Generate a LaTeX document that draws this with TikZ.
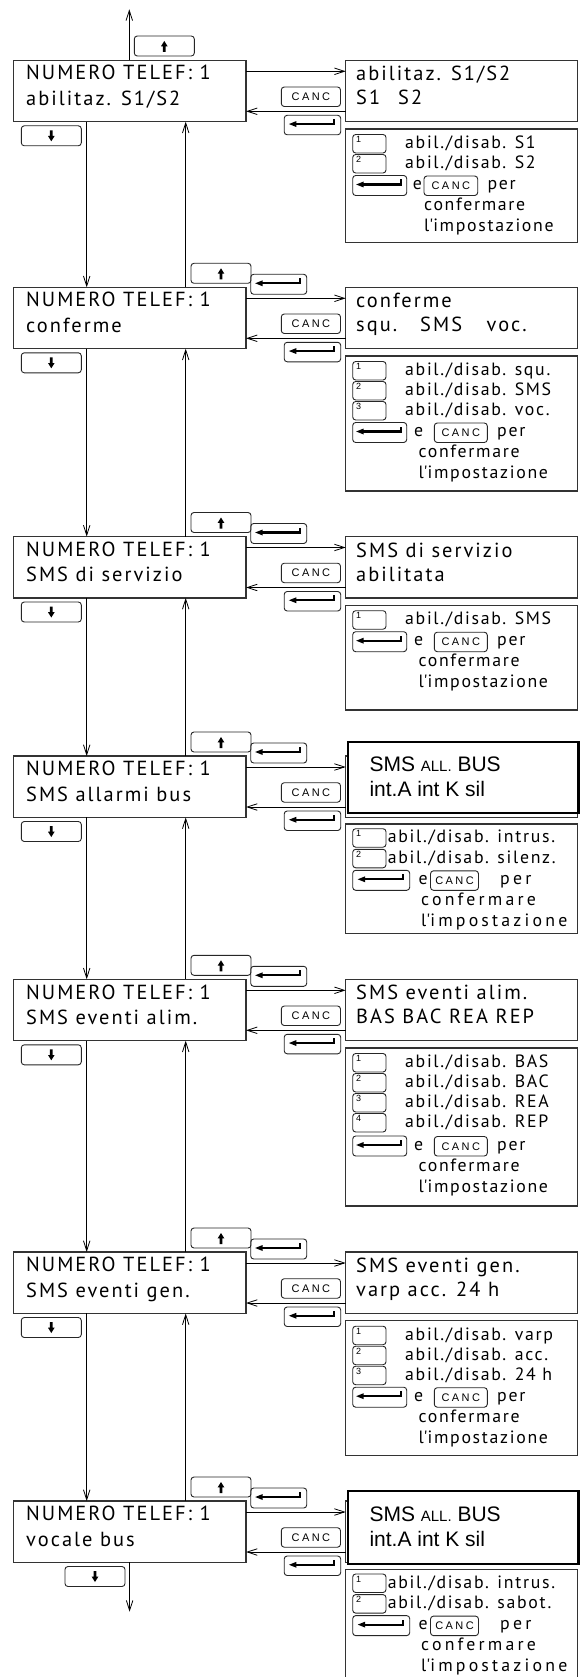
\documentclass[tikz,border=0pt]{standalone}
\usepackage{fontspec}
\usetikzlibrary{arrows.meta,calc}
\newfontfamily\dispfam[LetterSpace=10]{PT Sans}
\newfontfamily\optfam[LetterSpace=9.5]{PT Sans}
\newfontfamily\widefam[LetterSpace=18]{PT Sans}
\newfontfamily\arialfam{Liberation Sans}
\newfontfamily\keyfam[LetterSpace=22]{Liberation Sans}

\tikzset{
 frameline/.style={draw=black!80, line width=1.2pt},
 lcd/.style={frameline, anchor=north west, inner sep=0pt, outer sep=0pt, minimum width=232.7pt, minimum height=61.4pt},
 rlcd/.style={frameline, anchor=north west, inner sep=0pt, outer sep=0pt, minimum width=232pt, minimum height=61.4pt},
 optframe/.style={frameline, anchor=north west, inner sep=0pt, outer sep=0pt, minimum width=232pt},
 bigframe/.style={draw=black, line width=2.2pt, fill=white, anchor=north west, inner sep=0pt, outer sep=0pt, minimum width=230.2pt},
 keyframe/.style={draw=black!85, line width=0.9pt, rounded corners=3pt, anchor=north west, inner sep=0pt, outer sep=0pt},
 arrowkey/.style={keyframe, minimum width=60pt, minimum height=20pt},
 enterkey/.style={keyframe, minimum height=20pt},
 canckey/.style={keyframe, minimum height=19.5pt, font=\keyfam\fontsize{11}{12}\selectfont},
 numkey/.style={keyframe, minimum width=33.3pt, minimum height=18.5pt},
 digit/.style={anchor=north west, inner sep=0pt, font=\arialfam\fontsize{9}{9}\selectfont},
 dtext/.style={anchor=base west, inner sep=0pt, font=\dispfam\fontsize{20.4}{24}\selectfont},
 otext/.style={anchor=base west, inner sep=0pt, font=\optfam\fontsize{17.8}{20}\selectfont},
 wtext/.style={anchor=base west, inner sep=0pt, font=\widefam\fontsize{17.8}{20}\selectfont},
 atext/.style={anchor=base west, inner sep=0pt, font=\arialfam\fontsize{21}{24}\selectfont},
 conn/.style={line width=0.8pt, -{Straight Barb[length=10pt,width=6.5pt]}},
}

% glyphs drawn inside the keys (y grows downward in this picture)
\newcommand\upglyph[1]{\fill ($(#1.center)+(0,-5)$) -- ++(3.3,5.3) -- ++(-1.9,0) -- ++(0,5.7) -- ++(-2.8,0) -- ++(0,-5.7) -- ++(-1.9,0) -- cycle;}
\newcommand\downglyph[1]{\fill ($(#1.center)+(0,5.5)$) -- ++(3.3,-5.3) -- ++(-1.9,0) -- ++(0,-5.7) -- ++(-2.8,0) -- ++(0,5.7) -- ++(-1.9,0) -- cycle;}
\newcommand\enterglyph[1]{\draw[line width=2.2pt] ($(#1.center)+(-17,-1)$) -- ++(38.5,0) -- ++(0,-5);
  \fill ($(#1.center)+(-23.5,-1)$) -- ++(7.5,-3) -- ++(0,6) -- cycle;}

% id, top, second line of the left display
\newcommand\leftpart[3]{%
  \node[lcd] (L#1) at (13.3,#2) {};
  \node[dtext] (L#1a) at (26,{#2+19.7}) {NUMERO TELEF: 1};
  \node[dtext] (L#1b) at (26,{#2+45}) {#3};
  \node[rlcd] (R#1) at (345.7,#2) {};
  \node[canckey, minimum width=59.2pt] (C#1) at (281.3,{#2+26.7}) {CANC};
  \node[enterkey, minimum width=56.5pt, minimum height=19.5pt] (N#1) at (284.2,{#2+55}) {};
  \enterglyph{N#1}
  \draw[conn] ([yshift=-11pt]L#1.north east) -- ([yshift=-11pt]R#1.north west);
  \draw[conn] ([yshift=-51pt]R#1.north west) -- ([yshift=-51pt]L#1.north east);
}
\newcommand\upperkeys[2]{%
  \node[arrowkey] (U#1) at (191,{#2-24}) {};
  \upglyph{U#1}
  \node[enterkey, minimum width=56pt] (M#1) at (250.7,{#2-13}) {};
  \enterglyph{M#1}
}
\newcommand\rtext[4]{%
  \node[dtext] (R#1a) at (356,{#2+20.5}) {#3};
  \node[dtext] (R#1b) at (356,{#2+44.5}) {#4};
}
% name, key top, digit, text, text x
\newcommand\optrow[5]{%
  \node[numkey] (#1) at (352.7,#2) {};
  \node[digit] (#1d) at (356,{#2+1.8}) {#3};
  \node[otext] (#1t) at (#5,{#2+14}) {#4};
}
% name, E, e x, canc x, canc w, per x, conf x, enter w, text style
\newcommand\enterrow[9]{%
  \node[enterkey, minimum width=#8] (#1k) at (352.7,#2) {};
  \enterglyph{#1k}
  \node[#9] (#1e) at (#3,{#2+14}) {e};
  \node[canckey, minimum width=#5] (#1c) at (#4,{#2+0.5}) {CANC};
  \node[#9] (#1p) at (#6,{#2+14}) {per};
  \node[#9] (#1f) at (#7,{#2+35}) {confermare};
  \node[#9] (#1i) at (#7,{#2+56}) {l\textquotesingle impostazione};
}
\newcommand\vlinks[2]{%
  \draw[conn] ([xshift=73.4pt]L#1.south west) -- ([xshift=73.4pt]L#2.north west);
  \draw[conn] ([xshift=172.4pt]L#2.north west) -- ([xshift=172.4pt]L#1.south west);
}

\begin{document}
\begin{tikzpicture}[x=1pt,y=-1pt]
\useasboundingbox (0,0) rectangle (580,1677);
\fill[white] (0,0) rectangle (580,1677);

% ---------- block 1
\leftpart{1}{60.3}{abilitaz. S1/S2}
\rtext{1}{60.3}{abilitaz. S1/S2}{S1\hspace{18pt}S2}
\node[arrowkey] (U1) at (134.3,36) {};
\upglyph{U1}
\coordinate (topend) at (129.3,9.3);
\draw[conn] ([xshift=116pt]L1.north west) -- (topend);
\node[arrowkey] (D1) at (21.3,125.8) {};
\downglyph{D1}
\node[optframe, minimum height=113.3pt] (O1) at (345.7,129) {};
\optrow{K1a}{134.5}{1}{abil./disab. S1}{405}
\optrow{K1b}{154.5}{2}{abil./disab. S2}{405}
\enterrow{E1}{175.5}{412.7}{424}{53.7pt}{487.3}{424}{54pt}{otext}

% ---------- block 2
\leftpart{2}{287.3}{conferme}
\rtext{2}{287.3}{conferme}{squ.\hspace{23pt}SMS\hspace{24.5pt}voc.}
\upperkeys{2}{287.3}
\node[arrowkey] (D2) at (21.3,352.8) {};
\downglyph{D2}
\node[optframe, minimum height=135pt] (O2) at (345.7,356) {};
\optrow{K2a}{361.5}{1}{abil./disab. squ.}{405}
\optrow{K2b}{381.5}{2}{abil./disab. SMS}{405}
\optrow{K2c}{401.5}{3}{abil./disab. voc.}{405}
\enterrow{E2}{422.5}{414}{434.3}{53pt}{497}{418.3}{54pt}{otext}
\vlinks{1}{2}

% ---------- block 3
\leftpart{3}{536.5}{SMS di servizio}
\rtext{3}{536.5}{SMS di servizio}{abilitata}
\upperkeys{3}{536.5}
\node[arrowkey] (D3) at (21.3,602) {};
\downglyph{D3}
\node[optframe, minimum height=104.8pt] (O3) at (345.7,605.2) {};
\optrow{K3a}{610.7}{1}{abil./disab. SMS}{405}
\enterrow{E3}{631.7}{414}{434.3}{53pt}{497}{418.3}{54pt}{otext}
\vlinks{2}{3}

% ---------- block 4
\leftpart{4}{756}{SMS allarmi bus}
\node[bigframe, minimum height=71.6pt] (B4) at (348.3,741.7) {};
\node[atext] (B4a) at (369.3,771.7) {SMS {\fontsize{15}{15}\selectfont ALL.} BUS};
\node[atext] (B4b) at (369.3,796) {int.A int K sil};
\upperkeys{4}{756}
\node[arrowkey] (D4) at (21.3,821.5) {};
\downglyph{D4}
\node[optframe, minimum height=109.3pt] (O4) at (345.7,824) {};
\optrow{K4a}{828.7}{1}{abil./disab. intrus.}{387.7}
\optrow{K4b}{849.3}{2}{abil./disab. silenz.}{387.7}
\enterrow{E4}{870.3}{418.5}{430.5}{48pt}{500}{421}{57pt}{wtext}
\vlinks{3}{4}

% ---------- block 5
\leftpart{5}{979.3}{SMS eventi alim.}
\rtext{5}{979.3}{SMS eventi alim.}{BAS BAC REA REP}
\upperkeys{5}{979.3}
\node[arrowkey] (D5) at (21.3,1044.8) {};
\downglyph{D5}
\node[optframe, minimum height=158pt] (O5) at (345.7,1048) {};
\optrow{K5a}{1053.5}{1}{abil./disab. BAS}{405}
\optrow{K5b}{1073.5}{2}{abil./disab. BAC}{405}
\optrow{K5c}{1093.5}{3}{abil./disab. REA}{405}
\optrow{K5d}{1113.5}{4}{abil./disab. REP}{405}
\enterrow{E5}{1136}{414}{434.3}{53pt}{497}{418.3}{54pt}{otext}
\vlinks{4}{5}

% ---------- block 6
\leftpart{6}{1252}{SMS eventi gen.}
\rtext{6}{1252}{SMS eventi gen.}{varp acc. 24 h}
\upperkeys{6}{1252}
\node[arrowkey] (D6) at (21.3,1317.5) {};
\downglyph{D6}
\node[optframe, minimum height=135pt] (O6) at (345.7,1320.7) {};
\optrow{K6a}{1326.2}{1}{abil./disab. varp}{405}
\optrow{K6b}{1346.2}{2}{abil./disab. acc.}{405}
\optrow{K6c}{1366.2}{3}{abil./disab. 24 h}{405}
\enterrow{E6}{1387.2}{414}{434.3}{53pt}{497}{418.3}{54pt}{otext}
\vlinks{5}{6}

% ---------- block 7
\leftpart{7}{1501}{vocale bus}
\node[bigframe, minimum height=73.3pt] (B7) at (348.3,1490.7) {};
\node[atext] (B7a) at (369.3,1521.7) {SMS {\fontsize{15}{15}\selectfont ALL.} BUS};
\node[atext] (B7b) at (369.3,1546) {int.A int K sil};
\upperkeys{7}{1501}
\node[arrowkey] (D7) at (65,1566.5) {};
\downglyph{D7}
\coordinate (botend) at (129.6,1611.7);
\draw[conn] ([xshift=116.3pt]L7.south west) -- (botend);
\node[optframe, minimum height=112pt] (O7) at (345.7,1569.3) {};
\optrow{K7a}{1574}{1}{abil./disab. intrus.}{387.7}
\optrow{K7b}{1594.6}{2}{abil./disab. sabot.}{387.7}
\enterrow{E7}{1615.6}{418.5}{430.5}{48pt}{500}{421}{57pt}{wtext}
\vlinks{6}{7}
\end{tikzpicture}
\end{document}
